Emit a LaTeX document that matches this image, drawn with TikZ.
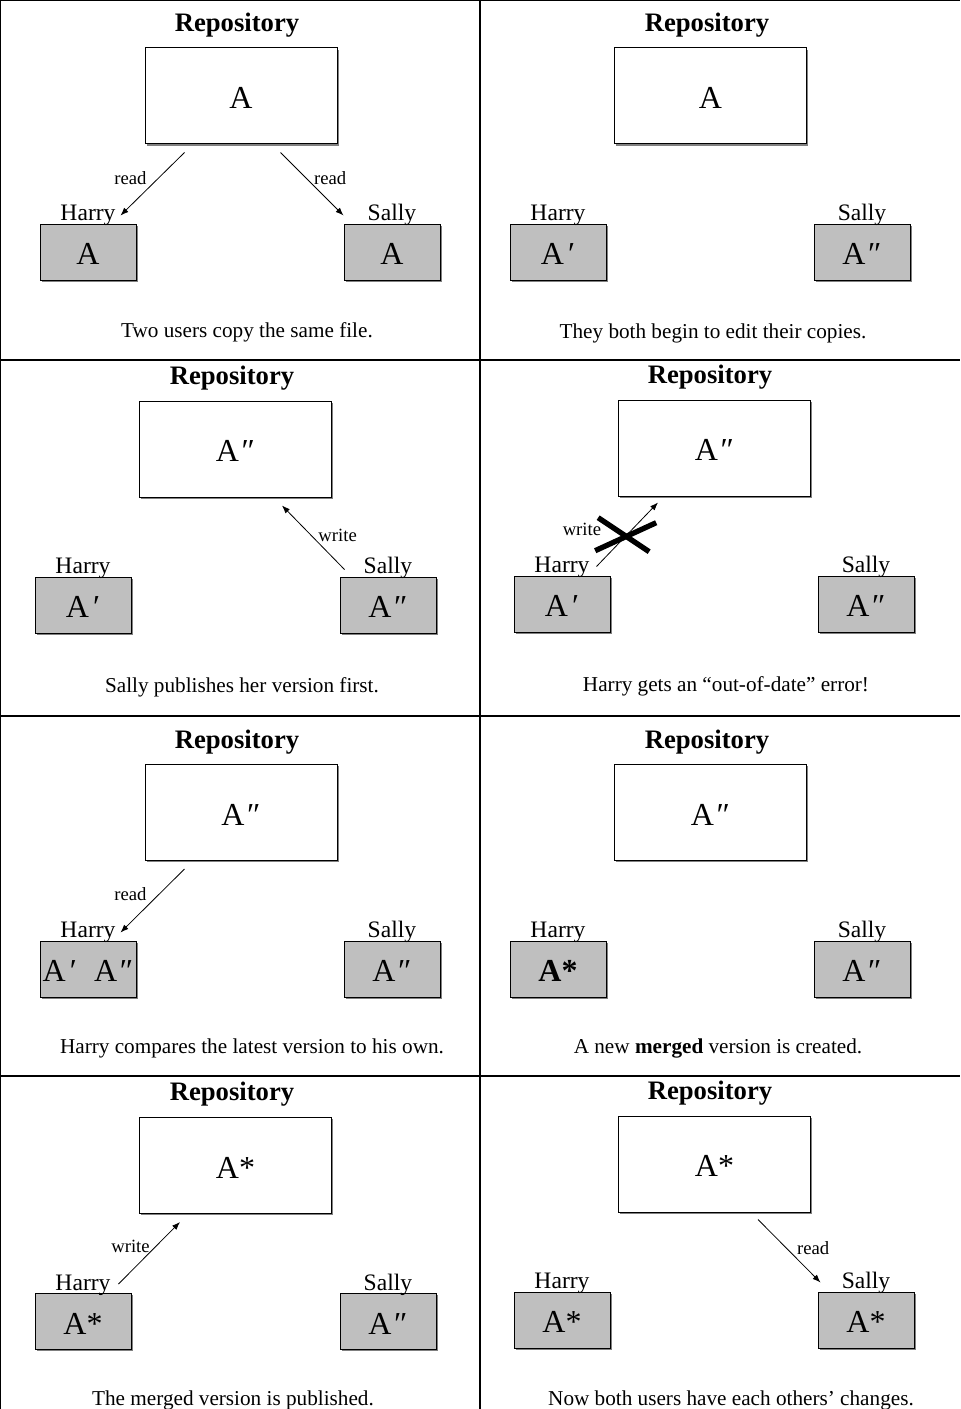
\documentclass[tikz,border=0pt]{standalone}
\usepackage{fontspec}
\setmainfont{Liberation Serif}
\usetikzlibrary{positioning,shadows,arrows.meta}

\begin{document}
\begin{tikzpicture}[x=0.75pt, y=-0.75pt,
  repobox/.style={rectangle, draw, line width=0.75pt, fill=white, inner sep=0pt,
    minimum width=144pt, minimum height=72pt, font=\fontsize{24pt}{28pt}\selectfont,
    text height=19pt, text depth=0pt,
    drop shadow={shadow xshift=1.3pt, shadow yshift=-1.3pt, opacity=1, fill=gray}},
  wcopy/.style={rectangle, draw, line width=0.75pt, fill=gray!50, inner sep=0pt,
    minimum width=72pt, minimum height=42pt, font=\fontsize{24pt}{28pt}\selectfont,
    text height=19pt, text depth=0pt,
    drop shadow={shadow xshift=1.3pt, shadow yshift=-1.3pt, opacity=1, fill=gray}},
  title/.style={anchor=base, inner sep=0pt, font=\fontsize{20pt}{24pt}\selectfont\bfseries},
  who/.style={inner sep=0pt, font=\fontsize{17.7pt}{20pt}\selectfont},
  caption/.style={anchor=base, inner sep=0pt, font=\fontsize{15.9pt}{19pt}\selectfont},
  lbl/.style={inner sep=0pt, font=\fontsize{14pt}{17pt}\selectfont},
  flow/.style={line width=0.6pt, -{Latex[length=6pt,width=4.5pt]}},
  nogo/.style={line width=4pt},
  grid/.style={line width=1pt}]
\useasboundingbox (0,0) rectangle (960,1409);
\clip (0,0) rectangle (960,1409);
% panel frames
\draw[grid] (0,0) -- (960,0);
\draw[grid] (0.5,0) -- (0.5,1409);
\draw[grid] (480,0) -- (480,1409);
\draw[grid] (0,360) -- (960,360);
\draw[grid] (0,716) -- (960,716);
\draw[grid] (0,1076) -- (960,1076);

% 1: both read
\begin{scope}
\node[title] at (237,32) (title1) {Repository};
\node[repobox] at (241,96) (repo1) {A};
\node[wcopy] at (88,252) (harry1) {A};
\node[wcopy] at (392,252) (sally1) {A};
\node[who, above=-2pt of harry1] (hname1) {Harry};
\node[who, above=-2pt of sally1] (sname1) {Sally};
\node[caption] at (247,337) (cap1) {Two users copy the same file.};
\draw[flow] ([shift={(40,8)}]repo1.south west) -- node[lbl, pos=0.4, left=9pt]{read} ([shift={(-16,-8)}]harry1.north east);
\draw[flow] ([shift={(-57,8)}]repo1.south east) -- node[lbl, pos=0.4, right=6pt]{read} ([shift={(0,-8)}]sally1.north west);
\end{scope}

% 2: both edit
\begin{scope}[shift={(480,0)}]
\node[title] at (227,32) (title2) {Repository};
\node[repobox] at (230.5,96) (repo2) {A};
\node[wcopy] at (78,252) (harry2) {A\kern3pt′};
\node[wcopy] at (382,252) (sally2) {A\kern2pt″};
\node[who, above=-2pt of harry2] (hname2) {Harry};
\node[who, above=-2pt of sally2] (sname2) {Sally};
\node[caption] at (233,338) (cap2) {They both begin to edit their copies.};
\end{scope}

% 3: Sally writes
\begin{scope}[shift={(0,360)}]
\node[title] at (232,24) (title3) {Repository};
\node[repobox] at (235.5,89) (repo3) {A\kern2pt″};
\node[wcopy] at (83,245) (harry3) {A\kern3pt′};
\node[wcopy] at (388,245) (sally3) {A\kern2pt″};
\node[who, above=-2pt of harry3] (hname3) {Harry};
\node[who, above=-2pt of sally3] (sname3) {Sally};
\node[caption] at (242,332) (cap3) {Sally publishes her version first.};
\draw[flow] ([shift={(5,-7)}]sally3.north west) -- node[lbl, pos=0.53, right=5pt]{write} ([shift={(-50,8)}]repo3.south east);
\end{scope}

% 4: Harry is refused
\begin{scope}[shift={(480,360)}]
\node[title] at (230,23) (title4) {Repository};
\node[repobox] at (234.5,88) (repo4) {A\kern2pt″};
\node[wcopy] at (82,244) (harry4) {A\kern3pt′};
\node[wcopy] at (386,244) (sally4) {A\kern2pt″};
\node[who, above=-2pt of harry4] (hname4) {Harry};
\node[who, above=-2pt of sally4] (sname4) {Sally};
\node[caption] at (246,331) (cap4) {Harry gets an “out-of-date” error!};
\draw[flow] ([shift={(-14,-9)}]harry4.north east) -- node[lbl, pos=0.58, left=23pt]{write} node[coordinate, pos=0.45] (x4) {} ([shift={(40,6)}]repo4.south west);
\draw[nogo] ([shift={(-26,-20)}]x4) -- ([shift={(25,14)}]x4);
\draw[nogo] ([shift={(-29,13)}]x4) -- ([shift={(32,-15)}]x4);
\end{scope}

% 5: Harry reads
\begin{scope}[shift={(0,716)}]
\node[title] at (237,32) (title5) {Repository};
\node[repobox] at (241,96.5) (repo5) {A\kern2pt″};
\node[wcopy] at (88,253) (harry5) {A\kern3pt′\kern13pt A\kern2pt″};
\node[wcopy] at (392,253) (sally5) {A\kern2pt″};
\node[who, above=-2pt of harry5] (hname5) {Harry};
\node[who, above=-2pt of sally5] (sname5) {Sally};
\node[caption] at (252,337) (cap5) {Harry compares the latest version to his own.};
\draw[flow] ([shift={(40,8)}]repo5.south west) -- node[lbl, pos=0.4, left=9pt]{read} ([shift={(-16,-8)}]harry5.north east);
\end{scope}

% 6: merge
\begin{scope}[shift={(480,716)}]
\node[title] at (227,32) (title6) {Repository};
\node[repobox] at (230.5,96.5) (repo6) {A\kern2pt″};
\node[wcopy] at (78,253) (harry6) {\textbf{A*}};
\node[wcopy] at (382,253) (sally6) {A\kern2pt″};
\node[who, above=-2pt of harry6] (hname6) {Harry};
\node[who, above=-2pt of sally6] (sname6) {Sally};
\node[caption] at (238,337) (cap6) {A new \textbf{merged} version is created.};
\end{scope}

% 7: Harry writes
\begin{scope}[shift={(0,1076)}]
\node[title] at (232,24) (title7) {Repository};
\node[repobox] at (235.5,89.5) (repo7) {A*};
\node[wcopy] at (83,245.5) (harry7) {A*};
\node[wcopy] at (388,245.5) (sally7) {A\kern2pt″};
\node[who, above=-2pt of harry7] (hname7) {Harry};
\node[who, above=-2pt of sally7] (sname7) {Sally};
\node[caption] at (233,329) (cap7) {The merged version is published.};
\draw[flow] ([shift={(-13,-9)}]harry7.north east) -- node[lbl, pos=0.6, left=4pt]{write} ([shift={(41,8)}]repo7.south west);
\end{scope}

% 8: Sally reads
\begin{scope}[shift={(480,1076)}]
\node[title] at (230,23) (title8) {Repository};
\node[repobox] at (234.5,88) (repo8) {A*};
\node[wcopy] at (82,244) (harry8) {A*};
\node[wcopy] at (386,244) (sally8) {A*};
\node[who, above=-2pt of harry8] (hname8) {Harry};
\node[who, above=-2pt of sally8] (sname8) {Sally};
\node[caption] at (251,329) (cap8) {Now both users have each others’ changes.};
\draw[flow] ([shift={(-53,7)}]repo8.south east) -- node[lbl, pos=0.45, right=8pt]{read} ([shift={(3,-9)}]sally8.north west);
\end{scope}
\end{tikzpicture}
\end{document}
